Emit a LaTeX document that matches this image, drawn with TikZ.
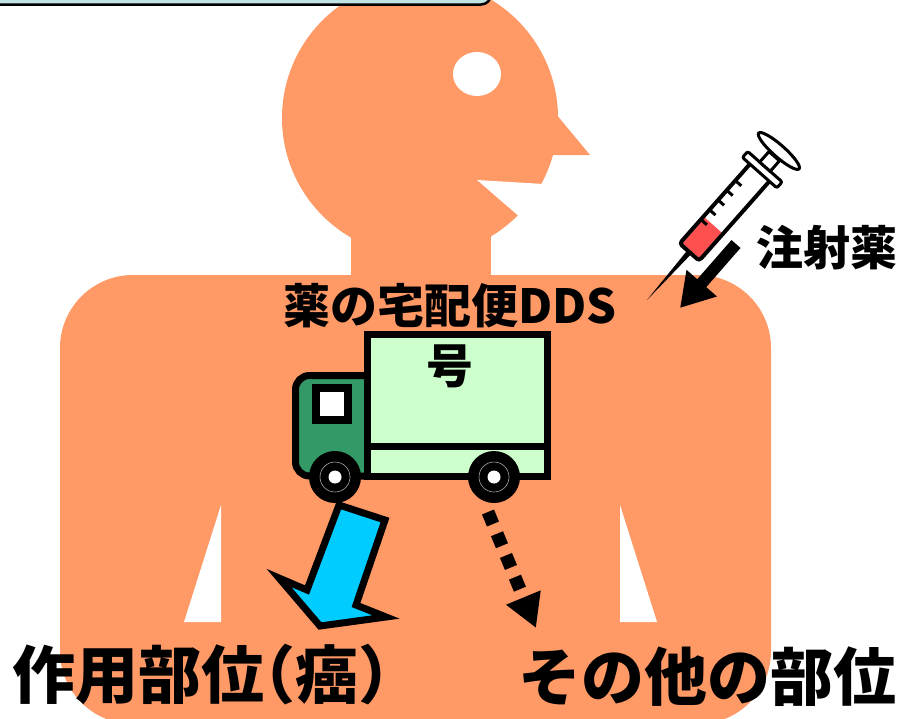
\documentclass[tikz,border=0pt]{standalone}
\usepackage{fontspec}
\setmainfont{Noto Sans CJK JP}
\newfontfamily\jphalt{Noto Sans CJK JP}[RawFeature=+halt]
\usetikzlibrary{arrows.meta}
\definecolor{skin}{RGB}{255,153,102}
\definecolor{boxcyan}{RGB}{192,228,228}
\definecolor{cargo}{RGB}{204,255,204}
\definecolor{cab}{RGB}{51,153,102}
\definecolor{liquid}{RGB}{255,80,80}
\definecolor{arrowcyan}{RGB}{0,204,255}
\begin{document}
\begin{tikzpicture}[x=1pt,y=-1pt,
  jtext/.style={inner sep=0pt, text=black},
  big/.style={font=\bfseries\fontsize{63}{66}\selectfont},
  mid/.style={font=\bfseries\fontsize{47}{50}\selectfont},
  thick7/.style={draw=black, line width=7pt, line join=miter},
  syr/.style={draw=black, line width=3pt},
  ]
\useasboundingbox (0,0) rectangle (912,718);

% body, neck and head
\fill[skin, rounded corners=73pt] (60,275) rectangle (771,724);
\fill[skin] (351,200) rectangle (491,280);
\fill[skin] (420,118) circle[radius=138];
\fill[skin] (556,114) -- (590,155) -- (550,155) -- (550,114) -- cycle;
\fill[white] (477,180) -- (560,185) -- (543,237) -- cycle;
\fill[white] (477,74) ellipse[x radius=24, y radius=22];

% caption box running off the top edge, lying over the head
\draw[fill=boxcyan, line width=2.5pt, rounded corners=10pt] (-20,-40) rectangle (491,4.5);

% gaps under the arms
\fill[white] (221,505) -- (221,622) -- (184,622) -- cycle;
\fill[white] (620,505) -- (620,622) -- (657,622) -- cycle;

% delivery truck
\draw[fill=cab, line width=7pt, rounded corners=14pt]
  (368,375.5) -- (295.5,375.5) -- (295.5,476) -- (368,476);
\draw[fill=white, line width=8pt] (316,388) rectangle (348,419.5);
\draw[thick7, fill=cargo] (367.5,334.5) rectangle (547.5,476.5);
\draw[thick7] (367.5,446) -- (547.5,446);
\foreach \wx in {335,494} {
  \fill[black] (\wx,477) circle[radius=26];
  \draw[gray!70, line width=0.6pt] (\wx,477) circle[radius=15];
  \fill[white] (\wx,477) circle[radius=6.5];
}

% labels
\node[jtext, mid] (title) at (450,306) {薬の宅配便DDS};
\node[jtext, mid] (truckname) at (450,366) {号};
\node[jtext, mid] (inj) at (827,248) {注射薬};
\node[jtext, big, anchor=west] (target) at (12,675) {作用部位{\jphalt（}癌{\jphalt）}};
\node[jtext, big, anchor=west] (others) at (518,677) {その他の部位};

% thick arrow towards the target site
\filldraw[fill=arrowcyan, thick7]
  (339,505) -- (385,520) -- (356,605) -- (386,617) -- (320,626)
  -- (279,578) -- (307,590) -- cycle;

% dotted arrow towards other sites
\coordinate (dotA) at (488,512);
\coordinate (dotB) at (536,628);
\draw[line width=13pt, dash pattern=on 13pt off 10.5pt,
  -{Triangle[length=33pt,width=35pt]}] (dotA) -- (dotB);

% injection arrow
\coordinate (injA) at (736,244);
\coordinate (injB) at (680,308);
\draw[line width=12pt, -{Triangle[length=33pt,width=38pt]}] (injA) -- (injB);

% syringe
\begin{scope}[shift={(647,300)}, rotate=48.5, x=1pt, y=1pt]
  \fill[black] (0,0) -- (66,2.8) -- (66,-2.8) -- cycle;
  \fill[white] (64,-13) rectangle (172,13);
  \fill[liquid] (66,-11) rectangle (100,11);
  \draw[line width=4pt, rounded corners=3pt] (64,-13) rectangle (172,13);
  \foreach \u in {96,109,122,135,148}
    \draw[line width=3pt] (\u,13) -- (\u,5);
  \draw[syr, fill=white, rounded corners=2pt] (170,-23) rectangle (178,23);
  \draw[syr, fill=white] (178,-7) rectangle (192,7);
  \draw[syr, fill=white] (199,0) ellipse[x radius=6, y radius=27];
\end{scope}
\end{tikzpicture}
\end{document}
